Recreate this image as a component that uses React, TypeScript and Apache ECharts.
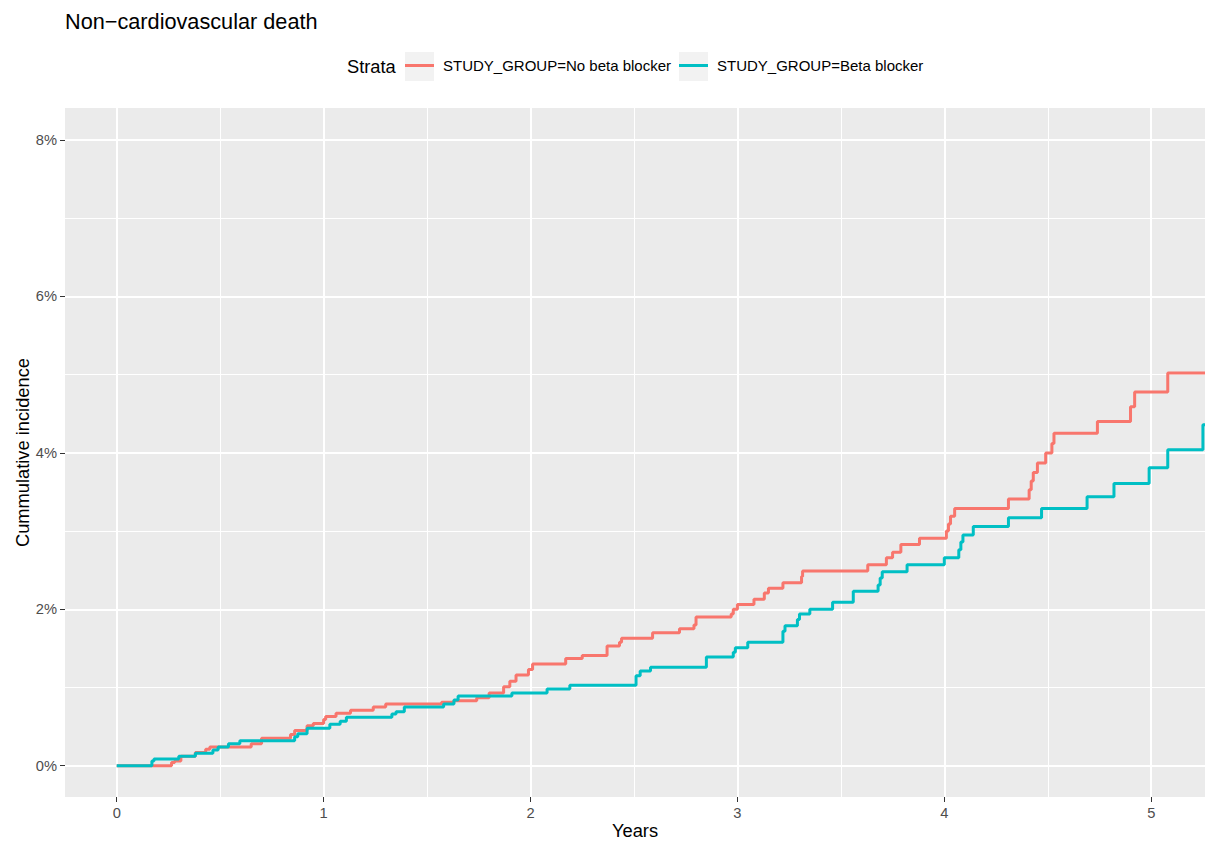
import React, { useEffect, useRef } from "react";
import * as echarts from "echarts";

const FONT = "'Liberation Sans', Arial, Helvetica, sans-serif";

const chartTitle = "Non−cardiovascular death";
const legendTitle = "Strata";
const seriesNames = ["STUDY_GROUP=No beta blocker", "STUDY_GROUP=Beta blocker"];
const seriesColors = ["#F8766D", "#00BFC4"];
const xTicks = [0, 1, 2, 3, 4, 5];
const yTicks = [0, 2, 4, 6, 8];
const xTitle = "Years";
const yTitle = "Cummulative incidence";

const noBBTimes = [0, 0.265, 0.28, 0.31, 0.38, 0.43, 0.45, 0.65, 0.70, 0.84, 0.86, 0.92, 0.95, 1.00, 1.01, 1.06, 1.13, 1.24, 1.30, 1.57, 1.63, 1.74, 1.80, 1.87, 1.90, 1.93, 1.99, 2.01, 2.17, 2.25, 2.37, 2.43, 2.44, 2.59, 2.72, 2.79, 2.80, 2.97, 2.98, 3.00, 3.08, 3.13, 3.15, 3.22, 3.31, 3.315, 3.63, 3.72, 3.75, 3.79, 3.88, 4.01, 4.02, 4.03, 4.05, 4.31, 4.41, 4.42, 4.43, 4.45, 4.49, 4.52, 4.53, 4.74, 4.90, 4.92, 5.08, 5.26];
const noBBValues = [0, 0.04, 0.06, 0.12, 0.17, 0.21, 0.24, 0.28, 0.35, 0.40, 0.45, 0.51, 0.54, 0.59, 0.63, 0.67, 0.71, 0.75, 0.79, 0.81, 0.83, 0.87, 0.93, 1.01, 1.08, 1.16, 1.23, 1.30, 1.37, 1.41, 1.53, 1.58, 1.63, 1.70, 1.75, 1.80, 1.90, 1.94, 2.00, 2.06, 2.13, 2.21, 2.27, 2.34, 2.42, 2.49, 2.57, 2.66, 2.73, 2.83, 2.91, 3.00, 3.09, 3.19, 3.29, 3.41, 3.53, 3.64, 3.75, 3.87, 4.00, 4.12, 4.25, 4.40, 4.59, 4.78, 5.02, 5.02];

const bbTimes = [0, 0.17, 0.18, 0.30, 0.38, 0.465, 0.49, 0.54, 0.595, 0.86, 0.875, 0.92, 1.03, 1.08, 1.11, 1.33, 1.35, 1.39, 1.58, 1.63, 1.65, 1.91, 2.08, 2.19, 2.51, 2.53, 2.58, 2.85, 2.98, 2.99, 3.05, 3.22, 3.23, 3.29, 3.30, 3.35, 3.46, 3.56, 3.68, 3.69, 3.70, 3.82, 4.00, 4.07, 4.08, 4.09, 4.14, 4.31, 4.47, 4.69, 4.82, 4.99, 5.08, 5.25, 5.26];
const bbValues = [0, 0.06, 0.085, 0.12, 0.16, 0.20, 0.24, 0.28, 0.32, 0.37, 0.41, 0.48, 0.53, 0.57, 0.62, 0.66, 0.69, 0.75, 0.79, 0.84, 0.89, 0.93, 0.98, 1.03, 1.15, 1.21, 1.26, 1.39, 1.45, 1.51, 1.58, 1.72, 1.79, 1.87, 1.94, 2.00, 2.09, 2.23, 2.31, 2.40, 2.48, 2.57, 2.66, 2.76, 2.86, 2.95, 3.06, 3.17, 3.29, 3.44, 3.61, 3.81, 4.04, 4.36, 4.36];

const zip = (t: number[], v: number[]) => t.map((x, i) => [x, v[i]]);

export default function App() {
  const ref = useRef<HTMLDivElement>(null);
  useEffect(() => {
    if (!ref.current) return;
    const chart = echarts.init(ref.current, undefined, { renderer: "svg" });
    const axisCommon = {
      axisLine: { show: false, onZero: false },
      axisTick: { show: true, length: 5, lineStyle: { color: "#333333", width: 1 } },
      splitLine: { show: true, lineStyle: { color: "#FFFFFF", width: 2 } },
      minorTick: { show: false, splitNumber: 2 },
      minorSplitLine: { show: true, lineStyle: { color: "#FFFFFF", width: 1 } },
      nameMoveOverlap: false,
      nameTextStyle: { fontFamily: FONT, fontSize: 18.3, color: "#000000" },
    };
    chart.setOption({
      animation: false,
      backgroundColor: "#FFFFFF",
      title: {
        text: chartTitle,
        left: 65,
        top: 10,
        padding: 0,
        textStyle: { fontFamily: FONT, fontSize: 21.7, fontWeight: "normal", color: "#000000" },
      },
      legend: {
        data: seriesNames,
        left: 405,
        top: 58,
        padding: 0,
        icon: "rect",
        itemWidth: 29,
        itemHeight: 3,
        itemGap: 8,
        textStyle: { fontFamily: FONT, fontSize: 15, color: "#000000", padding: [0, 0, 0, 4] },
      },
      graphic: [
        { type: "rect", left: 405, top: 52, z: -1, shape: { width: 29, height: 29 }, style: { fill: "#F2F2F2" } },
        { type: "rect", left: 679, top: 52, z: -1, shape: { width: 29, height: 29 }, style: { fill: "#F2F2F2" } },
        {
          type: "text",
          left: 347,
          top: 57,
          style: { text: legendTitle, font: `18.3px ${FONT}`, fill: "#000000" },
        },
      ],
      grid: {
        left: 65,
        right: 0,
        top: 108,
        bottom: 46,
        outerBoundsMode: "none",
        containLabel: false,
        show: true,
        backgroundColor: "#EBEBEB",
        borderWidth: 0,
      },
      xAxis: {
        type: "value",
        min: -0.25,
        max: 5.26,
        name: xTitle,
        nameLocation: "middle",
        nameGap: 24,
        ...axisCommon,
        axisTick: { ...axisCommon.axisTick, customValues: xTicks },
        axisLabel: {
          customValues: xTicks,
          margin: 8,
          fontFamily: FONT,
          fontSize: 14.7,
          color: "#4D4D4D",
        },
      },
      yAxis: {
        type: "value",
        min: -0.4,
        max: 8.41,
        name: yTitle,
        nameLocation: "middle",
        nameRotate: 90,
        nameGap: 34,
        ...axisCommon,
        axisTick: { ...axisCommon.axisTick, customValues: yTicks },
        axisLabel: {
          customValues: yTicks,
          margin: 8,
          fontFamily: FONT,
          fontSize: 14.7,
          color: "#4D4D4D",
          formatter: (v: number) => `${v}%`,
        },
      },
      series: [
        {
          name: seriesNames[0],
          type: "line",
          step: "end",
          showSymbol: false,
          data: zip(noBBTimes, noBBValues),
          lineStyle: { color: seriesColors[0], width: 3 },
          itemStyle: { color: seriesColors[0] },
          clip: true,
        },
        {
          name: seriesNames[1],
          type: "line",
          step: "end",
          showSymbol: false,
          data: zip(bbTimes, bbValues),
          lineStyle: { color: seriesColors[1], width: 3 },
          itemStyle: { color: seriesColors[1] },
          clip: true,
        },
      ],
    });
    return () => chart.dispose();
  }, []);
  return (
    <div
      ref={ref}
      style={{ position: "fixed", left: 0, top: 0, width: 1205, height: 843 }}
    />
  );
}
